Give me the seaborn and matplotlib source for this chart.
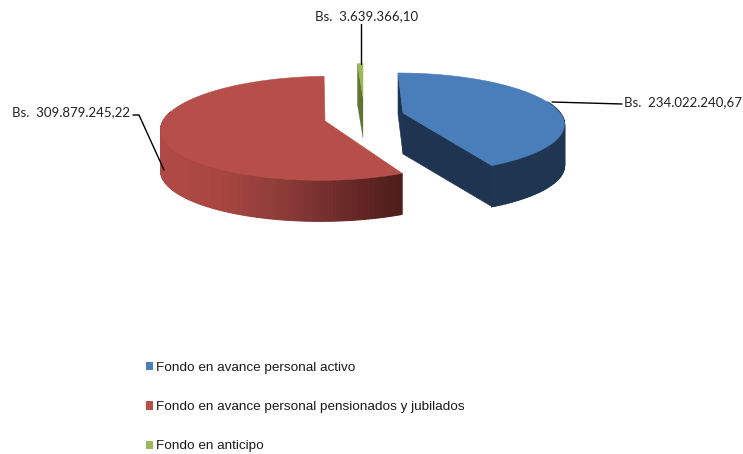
import numpy as np
import matplotlib
matplotlib.use("Agg")
import matplotlib.pyplot as plt
from matplotlib.patches import Polygon, Patch
import seaborn as sns

# ================================
#  Data
# ================================
categories = ["Fondo en avance personal activo",
              "Fondo en avance personal pensionados y jubilados",
              "Fondo en anticipo"]
values = [234022240.67, 309879245.22, 3639366.10]
value_labels = ["Bs.  234.022.240,67", "Bs.  309.879.245,22", "Bs.  3.639.366,10"]
top_colors = ["#4A7EBB", "#B64F4A", "#9BBB59"]

sns.set_theme(style="white")
plt.rcParams["font.family"] = ["Lato", "DejaVu Sans"]

fig = plt.figure(figsize=(7.43, 4.54), dpi=100)
ax = fig.add_axes([0, 0, 1, 1])
ax.set_xlim(0, 743)
ax.set_ylim(454, 0)
ax.axis("off")

THICK = 41


def project(a, g):
    # a is clockwise from 12 o'clock, degrees. simple perspective on a flat disc
    cx, cy, rx, ry, shear, k = g
    u = np.sin(np.radians(a))
    v = np.cos(np.radians(a))
    s = 1 / (1 + k * v)
    return cx + rx * u * s - shear * v, cy - ry * v * s


def wall_seg(p0, p1, color, z, lw=1.2):
    # quad between the top edge points and the same points pushed down
    quad = [p0, p1, (p1[0], p1[1] + THICK), (p0[0], p0[1] + THICK)]
    ax.add_patch(Polygon(quad, closed=True, fc=color, ec=color, lw=lw, zorder=z))


def top_face(g, a, color):
    pts = [(g[0], g[1])] + [project(t, g) for t in a]
    ax.add_patch(Polygon(pts, closed=True, fc=color, ec=color, lw=0.4, zorder=4))


# angles come from the values
fracs = np.array(values) / sum(values) * 360
edges = np.concatenate([[0], np.cumsum(fracs)])

geo_blue = (403, 113, 157, 48, 5, 0.2)
geo_red = (325, 121, 162, 51, -5, 0.14)
geo_green = (363, 97, 160, 40, 0, 0.2)
red_wall = sns.blend_palette(["#B04A47", "#A8463F", "#8E3C39", "#6E2C2A", "#4F1D1B"], 60)

# Blue slice
a = np.linspace(edges[0], edges[1], 120)
apex = geo_blue[:2]
wall_seg(project(edges[0], geo_blue), apex, "#1F3552", 2, lw=0.4)
for a0, a1 in zip(a[:-1], a[1:]):
    if a0 < 75:
        continue
    wall_seg(project(a0, geo_blue), project(a1, geo_blue), "#1F3552", 2)
wall_seg(apex, project(edges[1], geo_blue), "#1E3450", 3, lw=0.4)
top_face(geo_blue, a, top_colors[0])

# Red slice, wall is darker towards the cut
a = np.linspace(edges[1], edges[2], 200)
for a0, a1 in zip(a[:-1], a[1:]):
    if a0 > 280:
        continue
    p0 = project(a0, geo_red)
    p1 = project(a1, geo_red)
    idx = int(np.clip((401 - p0[0]) / 241 * 60, 0, 59))
    wall_seg(p0, p1, red_wall[59 - idx], 2, lw=0.8)
top_face(geo_red, a, top_colors[1])

# Green slice, mostly its inner face is visible
apex = geo_green[:2]
wall_seg(project(edges[2], geo_green), apex, "#5F7434", 2, lw=0.2)
top_face(geo_green, np.linspace(edges[2], edges[3], 10), top_colors[2])

# Labels and leader lines
ax.plot([552, 622], [102, 104], color="black", lw=1, zorder=5)
ax.text(624, 102, value_labels[0], fontsize=9.5, color="#222222", va="center", ha="left")
ax.plot([133, 139, 164], [115, 115, 170], color="black", lw=1, zorder=5)
ax.text(12, 112, value_labels[1], fontsize=9.5, color="#222222", va="center", ha="left")
ax.plot([361, 361], [24, 64], color="black", lw=1, zorder=5)
ax.text(315, 16, value_labels[2], fontsize=9.5, color="#222222", va="center", ha="left")

# Legend
handles = [Patch(fc=c, ec="none", label=n) for c, n in zip(top_colors, categories)]
ax.legend(handles=handles, loc="upper left", bbox_to_anchor=(146 / 743, 1 - 362 / 454),
          frameon=False, borderpad=0, borderaxespad=0, labelspacing=2.02,
          handlelength=0.55, handleheight=0.55, handletextpad=0.2,
          prop={"family": "Liberation Sans", "size": 9.7}, labelcolor="#1a1a1a")

plt.savefig("out.png", dpi=100)
